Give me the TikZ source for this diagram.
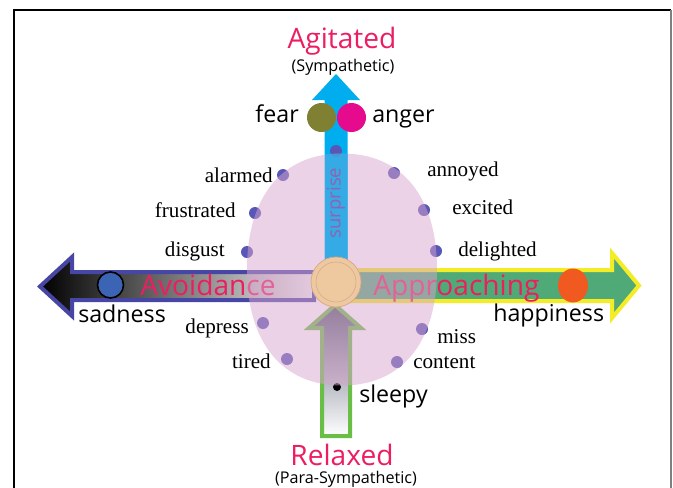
\documentclass[tikz,border=0pt]{standalone}
\usepackage{fontspec}
\setmainfont{Liberation Serif}
\setsansfont{Open Sans}
\usetikzlibrary{positioning, shapes.geometric}
\definecolor{title}{RGB}{236,30,96}
\definecolor{sky}{RGB}{0,174,239}
\definecolor{avoid}{RGB}{72,70,165}
\definecolor{approach}{RGB}{245,236,40}
\definecolor{leaf}{RGB}{80,170,120}
\definecolor{calm}{RGB}{105,190,70}
\definecolor{slate}{RGB}{80,88,110}
\definecolor{dotc}{RGB}{88,86,182}
\definecolor{blush}{RGB}{217,165,205}
\definecolor{hubfill}{RGB}{238,201,160}
\definecolor{hubline}{RGB}{215,170,140}
\definecolor{olive}{RGB}{128,128,50}
\definecolor{rage}{RGB}{230,10,140}
\definecolor{sad}{RGB}{60,100,180}
\definecolor{joy}{RGB}{240,90,32}
\definecolor{wow}{RGB}{150,95,175}

% rounded, slightly squarish cloud round the hub
\newcommand{\cloudpath}{(437,269.5) .. controls (437,196.4) and (401.85,153.5) .. (342,153.5)
    .. controls (282.15,153.5) and (247,196.4) .. (247,269.5)
    .. controls (247,342.6) and (282.15,385.5) .. (342,385.5)
    .. controls (401.85,385.5) and (437,342.6) .. (437,269.5) -- cycle}

\begin{document}
\begin{tikzpicture}[
    x=0.25mm, y=-0.25mm,
    word/.style={font=\fontsize{15}{15}\selectfont, inner sep=0pt},
    feel/.style={font=\sffamily\fontsize{16.5}{16.5}\selectfont, inner sep=0pt},
    pole/.style={font=\sffamily\fontsize{20}{20}\selectfont, text=title, inner sep=0pt},
    nerve/.style={font=\sffamily\fontsize{11.5}{11.5}\selectfont, inner sep=0pt},
    spot/.style={circle, fill=dotc, minimum size=3mm, inner sep=0pt},
    blob/.style={circle, minimum size=7.25mm, inner sep=0pt},
    band/.style={line width=1mm, line join=miter}
]
    \useasboundingbox (0,0) rectangle (673,488);

    % frame
    \draw[line width=0.4mm] (14,488) -- (14,10) -- (671,10);
    \draw[gray, line width=0.5mm] (671,10) -- (671,488);

    % the four arrows
    \fill[sky] (324.5,282) -- (324.5,100) -- (312,100) -- (336,74)
        -- (360,100) -- (347.5,100) -- (347.5,282) -- cycle;
    \draw[band, draw=avoid, left color=black, right color=gray!12]
        (314,272) -- (72,272) -- (72,257) -- (40,286.5) -- (72,316)
        -- (72,300) -- (314,300) -- cycle;
    \draw[band, draw=approach, fill=leaf]
        (340,270) -- (612,270) -- (612,253) -- (639,285.5) -- (612,318)
        -- (612,301) -- (340,301) -- cycle;
    \draw[band, draw=calm, top color=slate, bottom color=white]
        (322,436) -- (322,328) -- (309,328) -- (335,305) -- (361,328)
        -- (350,328) -- (350,436) -- cycle;

    % big feelings
    \node[blob, fill=olive] (fearc) at (321.5,117.5) {};
    \node[blob, fill=rage] (angerc) at (351.5,117.5) {};
    \node[blob, fill=sad, draw=black, line width=0.4mm, minimum size=6.5mm] (sadc) at (110.5,285) {};
    \node[ellipse, fill=joy, minimum width=7.5mm, minimum height=8.5mm, inner sep=0pt] (joyc) at (573,285.5) {};
    \node[circle, fill=black, minimum size=2mm, inner sep=0pt] (sleepc) at (337,387) {};

    \node[feel, anchor=base east] (fear) at (299,122) {fear};
    \node[feel, anchor=base west] (anger) at (372,122) {anger};
    \node[feel, anchor=base west] (sadness) at (78,322) {sadness};
    \node[feel, anchor=base west] (happiness) at (493,321) {happiness};
    \node[feel, anchor=base west] (sleepy) at (359,402) {sleepy};

    % axis names
    \node[pole, anchor=base] (agitated) at (342,48) {Agitated};
    \node[nerve, anchor=base] (symp) at (343,71) {(Sympathetic)};
    \node[pole, anchor=base] (relaxed) at (342,465) {Relaxed};
    \node[nerve, anchor=base] (para) at (346,483) {(Para-Sympathetic)};
    \node[pole, anchor=base west] (avoidance) at (140,295) {Avoidance};
    \node[pole, anchor=base west] (approaching) at (373,295) {Approaching};

    % small feelings round the circle
    \node[spot] (s0) at (336,151) {};
    \node[spot] (s1) at (283,175) {};
    \node[spot] (s2) at (255,213) {};
    \node[spot] (s3) at (247,252) {};
    \node[spot] (s4) at (263,323) {};
    \node[spot] (s5) at (287,359) {};
    \node[spot] (s6) at (394,173) {};
    \node[spot] (s7) at (424,210) {};
    \node[spot] (s8) at (436,251) {};
    \node[spot] (s9) at (422,329) {};
    \node[spot] (s10) at (397,362) {};

    \node[word, anchor=base east] (alarmed) at (273,182) {alarmed};
    \node[word, anchor=base east] (frustrated) at (236,217) {frustrated};
    \node[word, anchor=base east] (disgust) at (225,256) {disgust};
    \node[word, anchor=base east] (depress) at (249,333) {depress};
    \node[word, anchor=base east] (tired) at (271,368) {tired};
    \node[word, anchor=base west] (annoyed) at (427,176) {annoyed};
    \node[word, anchor=base west] (excited) at (452,214) {excited};
    \node[word, anchor=base west] (delighted) at (458,256) {delighted};
    \node[word, anchor=base west] (miss) at (437,343) {miss};
    \node[word, anchor=base west] (content) at (413,368) {content};

    % arousal cloud, blue shaft showing through, and hub
    \fill[blush, fill opacity=0.5] \cloudpath;
    \begin{scope}
        \clip \cloudpath;
        \fill[sky, fill opacity=0.5] (324.5,282) rectangle (347.5,150);
    \end{scope}
    \node[font=\sffamily\fontsize{13.2}{13.2}\selectfont, text=wow, rotate=90, inner sep=0pt] (surprise) at (336,203) {surprise};
    \node[circle, fill=hubfill, draw=hubline, line width=0.2mm, minimum size=12.5mm, inner sep=0pt] (hub) at (336,282) {};
    \draw[hubline, line width=0.15mm] (hub) circle [radius=20];
\end{tikzpicture}
\end{document}
